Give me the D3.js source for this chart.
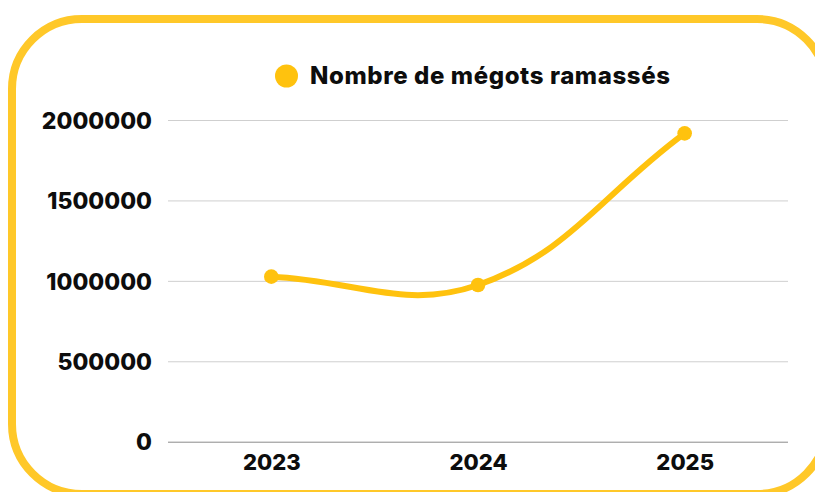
<!DOCTYPE html>
<html>
<head>
<meta charset="utf-8">
<script src="https://cdn.jsdelivr.net/npm/d3@7"></script>
<style>
  html, body { margin: 0; padding: 0; background: #ffffff; }
  svg { display: block; }
  text { font-family: Inter, "DejaVu Sans", sans-serif; font-weight: 800; fill: #0d0d0d; }
</style>
</head>
<body>
<svg id="chart" width="815" height="492"></svg>
<script>
// ---- data ----
const categories = ["2023", "2024", "2025"];
const seriesName = "Nombre de mégots ramassés";
const values = [1026000, 974000, 1917000];
const yTicks = [0, 500000, 1000000, 1500000, 2000000];

// ---- layout ----
const W = 815, H = 492;
const plot = { left: 168, right: 788, top: 120, bottom: 441.7 };
const yellow = "#FFC20E";
const borderColor = "#FFC829";

const svg = d3.select("#chart");

// rounded frame
svg.append("rect")
  .attr("x", 12).attr("y", 19)
  .attr("width", 815).attr("height", 475)
  .attr("rx", 70).attr("ry", 70)
  .attr("fill", "none")
  .attr("stroke", borderColor)
  .attr("stroke-width", 8);

const x = d3.scalePoint().domain(categories).range([plot.left, plot.right]).padding(0.5);
const y = d3.scaleLinear().domain([0, 2000000]).range([plot.bottom, plot.top]);

// y axis with gridlines
const yAxis = svg.append("g")
  .attr("transform", `translate(${plot.left},0)`)
  .call(d3.axisLeft(y).tickValues(yTicks).tickFormat(d => String(d))
        .tickSize(-(plot.right - plot.left)).tickPadding(16));
yAxis.select(".domain").remove();
yAxis.selectAll(".tick line")
  .attr("stroke", d => d === 0 ? "#8a8a8a" : "#cfcfcf")
  .attr("stroke-width", 1);
yAxis.selectAll(".tick text")
  .attr("font-size", 23)
  .attr("dy", "0.36em")
  .attr("fill", "#0d0d0d");

// x axis
const xAxis = svg.append("g")
  .attr("transform", `translate(0,${plot.bottom})`)
  .call(d3.axisBottom(x).tickSize(0).tickPadding(13));
xAxis.select(".domain").remove();
xAxis.selectAll(".tick text")
  .attr("font-size", 22)
  .attr("fill", "#0d0d0d");

// Chart.js-like spline curve (tension 0.4)
function ChartJsSpline(context) { this._context = context; }
ChartJsSpline.prototype = {
  areaStart() { this._line = 0; },
  areaEnd() { this._line = NaN; },
  lineStart() { this._pts = []; },
  point(px, py) { this._pts.push([+px, +py]); },
  lineEnd() {
    const p = this._pts, n = p.length, t = 0.4, ctx = this._context;
    if (!n) return;
    const cpIn = [], cpOut = [];
    for (let i = 0; i < n; i++) {
      const prev = p[i - 1] || p[i], cur = p[i], next = p[i + 1] || p[i];
      const d01 = Math.hypot(cur[0] - prev[0], cur[1] - prev[1]);
      const d12 = Math.hypot(next[0] - cur[0], next[1] - cur[1]);
      let s01 = d01 / (d01 + d12), s12 = d12 / (d01 + d12);
      s01 = isNaN(s01) ? 0 : s01; s12 = isNaN(s12) ? 0 : s12;
      const fa = t * s01, fb = t * s12;
      cpIn.push([cur[0] - fa * (next[0] - prev[0]), cur[1] - fa * (next[1] - prev[1])]);
      cpOut.push([cur[0] + fb * (next[0] - prev[0]), cur[1] + fb * (next[1] - prev[1])]);
    }
    ctx.moveTo(p[0][0], p[0][1]);
    for (let i = 1; i < n; i++) {
      ctx.bezierCurveTo(cpOut[i - 1][0], cpOut[i - 1][1], cpIn[i][0], cpIn[i][1], p[i][0], p[i][1]);
    }
  }
};
const curveChartJs = ctx => new ChartJsSpline(ctx);

const data = categories.map((c, i) => ({ c, v: values[i] }));

svg.append("path")
  .datum(data)
  .attr("fill", "none")
  .attr("stroke", yellow)
  .attr("stroke-width", 6)
  .attr("stroke-linecap", "round")
  .attr("d", d3.line().x(d => x(d.c)).y(d => y(d.v)).curve(curveChartJs));

svg.append("g").selectAll("circle")
  .data(data)
  .join("circle")
  .attr("cx", d => x(d.c))
  .attr("cy", d => y(d.v))
  .attr("r", 7.3)
  .attr("fill", yellow);

// legend
const legend = svg.append("g");
legend.append("circle")
  .attr("cx", 286.5).attr("cy", 76).attr("r", 11.5)
  .attr("fill", yellow);
legend.append("text")
  .attr("x", 310).attr("y", 83.5)
  .attr("font-size", 24)
  .attr("letter-spacing", 0.6)
  .text(seriesName);
</script>
</body>
</html>
